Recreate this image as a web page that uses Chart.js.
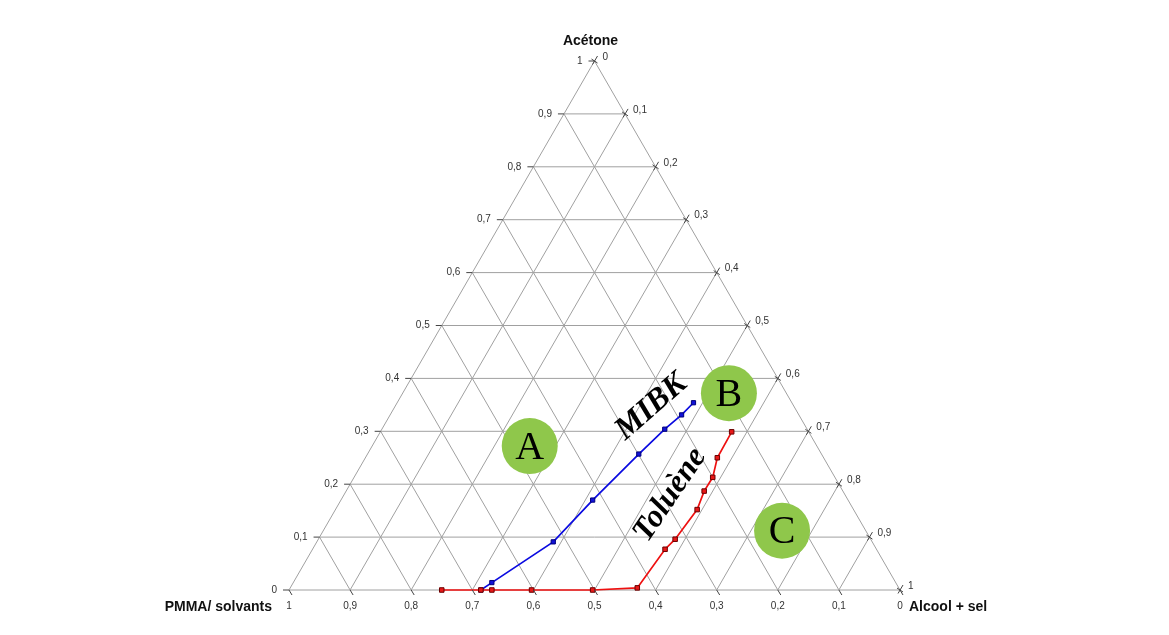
<!DOCTYPE html>
<html>
<head>
<meta charset="utf-8">
<script src="https://cdn.jsdelivr.net/npm/chart.js@4/dist/chart.umd.min.js"></script>
<style>
  body { margin: 0; background: #fff; }
  canvas { display: block; }
</style>
</head>
<body>
<canvas id="ternary" width="1169" height="635"></canvas>
<script>
const H = Math.sqrt(3) / 2;

// compositions (fractions of acetone and of alcool + sel)
const mibkAcetone = [0, 0.014, 0.091, 0.170, 0.257, 0.304, 0.331, 0.354];
const mibkAlcool  = [0.314, 0.325, 0.387, 0.412, 0.444, 0.463, 0.477, 0.485];
const tolAcetone  = [0, 0, 0, 0, 0, 0.004, 0.077, 0.096, 0.152, 0.187, 0.213, 0.250, 0.299];
const tolAlcool   = [0.250, 0.314, 0.332, 0.397, 0.497, 0.568, 0.577, 0.584, 0.592, 0.586, 0.587, 0.576, 0.575];

// zones A, B, C
const zoneNames   = ['A', 'B', 'C'];
const zoneAcetone = [0.272, 0.372, 0.112];
const zoneAlcool  = [0.258, 0.534, 0.751];

// curve names
const curveNames   = ['MIBK', 'Toluène'];
const curveAcetone = [0.346, 0.180];
const curveAlcool  = [0.420, 0.534];
const curveAngle   = [-41, -56];

const gridSteps  = [0.1, 0.2, 0.3, 0.4, 0.5, 0.6, 0.7, 0.8, 0.9];
const tickValues = [0, 0.1, 0.2, 0.3, 0.4, 0.5, 0.6, 0.7, 0.8, 0.9, 1];
const tickLabels = ['0', '0,1', '0,2', '0,3', '0,4', '0,5', '0,6', '0,7', '0,8', '0,9', '1'];

// acetone a, alcool c  ->  plane position
function pt(a, c) {
    return { x: c + a / 2, y: a * H };
}

function seg(p1, p2) {
    return {
        data: [p1, p2],
        showLine: true,
        borderColor: '#a0a0a0',
        borderWidth: 1,
        pointRadius: 0,
        clip: false,
        order: 10
    };
}

const datasets = [];

// triangle outline
datasets.push(seg(pt(0, 0), pt(0, 1)));
datasets.push(seg(pt(0, 1), pt(1, 0)));
datasets.push(seg(pt(1, 0), pt(0, 0)));

gridSteps.forEach(function (k) {
    datasets.push(seg(pt(k, 0), pt(k, 1 - k)));       // acetone constant
    datasets.push(seg(pt(0, k), pt(1 - k, k)));       // alcool constant
    datasets.push(seg(pt(0, 1 - k), pt(1 - k, 0)));   // pmma constant
});

datasets.push({
    label: 'MIBK',
    data: mibkAcetone.map(function (a, i) { return pt(a, mibkAlcool[i]); }),
    showLine: true,
    borderColor: '#0a0ae0',
    borderWidth: 1.7,
    pointStyle: 'rect',
    pointRadius: 3,
    pointBackgroundColor: '#1212d8',
    pointBorderColor: '#00007a',
    pointBorderWidth: 1,
    clip: false,
    order: 3
});

datasets.push({
    label: 'Toluène',
    data: tolAcetone.map(function (a, i) { return pt(a, tolAlcool[i]); }),
    showLine: true,
    borderColor: '#ee1010',
    borderWidth: 1.7,
    pointStyle: 'rect',
    pointRadius: 3.2,
    pointBackgroundColor: '#e81818',
    pointBorderColor: '#6a0000',
    pointBorderWidth: 1,
    clip: false,
    order: 2
});

datasets.push({
    label: 'zones',
    data: zoneAcetone.map(function (a, i) { return pt(a, zoneAlcool[i]); }),
    showLine: false,
    pointRadius: 28,
    pointBackgroundColor: '#8fc74b',
    pointBorderWidth: 0,
    clip: false,
    order: 1
});

const labelsPlugin = {
    id: 'ternaryLabels',
    afterDraw: function (chart) {
        const ctx = chart.ctx;
        const sx = chart.scales.x;
        const sy = chart.scales.y;
        function px(p) { return [sx.getPixelForValue(p.x), sy.getPixelForValue(p.y)]; }

        ctx.save();
        ctx.strokeStyle = '#444';
        ctx.lineWidth = 1;
        ctx.fillStyle = '#333';
        ctx.font = '10px "Liberation Sans", Arial, sans-serif';

        tickValues.forEach(function (v, i) {
            // left side: acetone
            let q = px(pt(v, 0));
            ctx.beginPath();
            ctx.moveTo(q[0] - 6, q[1]);
            ctx.lineTo(q[0], q[1]);
            ctx.stroke();
            ctx.textAlign = 'right';
            ctx.textBaseline = 'middle';
            ctx.fillText(tickLabels[i], q[0] - 12, q[1]);

            // right side: alcool + sel
            q = px(pt(1 - v, v));
            ctx.beginPath();
            ctx.moveTo(q[0] - 2, q[1] + 3.5);
            ctx.lineTo(q[0] + 3, q[1] - 5);
            ctx.moveTo(q[0] - 3, q[1] - 2);
            ctx.lineTo(q[0] + 3, q[1] + 2);
            ctx.stroke();
            ctx.textAlign = 'left';
            ctx.fillText(tickLabels[i], q[0] + 8, q[1] - 4);

            // bottom: PMMA / solvants
            q = px(pt(0, 1 - v));
            ctx.beginPath();
            ctx.moveTo(q[0], q[1]);
            ctx.lineTo(q[0] + 3, q[1] + 5);
            ctx.stroke();
            ctx.textAlign = 'center';
            ctx.fillText(tickLabels[i], q[0], q[1] + 16);
        });

        // axis titles
        ctx.fillStyle = '#111';
        ctx.font = 'bold 14px "Liberation Sans", Arial, sans-serif';
        ctx.textBaseline = 'middle';
        let q = px(pt(1, 0));
        ctx.textAlign = 'center';
        ctx.fillText('Acétone', q[0] - 4, q[1] - 20);
        q = px(pt(0, 0));
        ctx.textAlign = 'right';
        ctx.fillText('PMMA/ solvants', q[0] - 17, q[1] + 17);
        q = px(pt(0, 1));
        ctx.textAlign = 'left';
        ctx.fillText('Alcool + sel', q[0] + 9, q[1] + 17);

        // zone letters
        ctx.fillStyle = '#000';
        ctx.font = '40px "Liberation Serif", "Times New Roman", serif';
        ctx.textAlign = 'center';
        ctx.textBaseline = 'middle';
        zoneNames.forEach(function (n, i) {
            const z = px(pt(zoneAcetone[i], zoneAlcool[i]));
            ctx.fillText(n, z[0], z[1] + 2);
        });

        // curve names
        ctx.font = 'italic bold 32px "Liberation Serif", "Times New Roman", serif';
        curveNames.forEach(function (n, i) {
            const z = px(pt(curveAcetone[i], curveAlcool[i]));
            ctx.save();
            ctx.translate(z[0], z[1]);
            ctx.rotate(curveAngle[i] * Math.PI / 180);
            ctx.fillText(n, 0, 0);
            ctx.restore();
        });
        ctx.restore();
    }
};

new Chart(document.getElementById('ternary'), {
    type: 'scatter',
    data: { datasets: datasets },
    options: {
        responsive: false,
        animation: false,
        layout: { padding: { left: 289, right: 269, top: 61, bottom: 45 } },
        plugins: {
            legend: { display: false },
            tooltip: { enabled: false }
        },
        scales: {
            x: { type: 'linear', min: 0, max: 1, display: false },
            y: { type: 'linear', min: 0, max: H, display: false }
        }
    },
    plugins: [labelsPlugin]
});
</script>
</body>
</html>
